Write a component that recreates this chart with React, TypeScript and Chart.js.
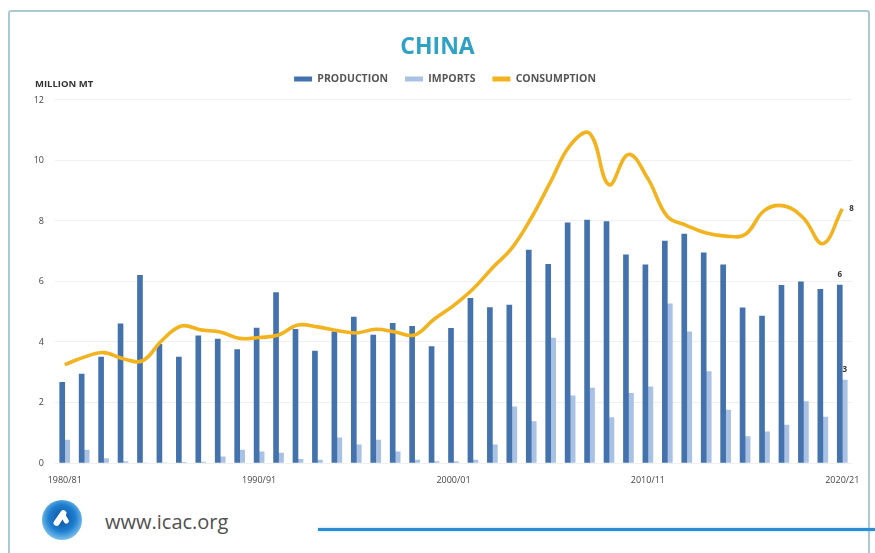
import React, { useEffect, useRef } from 'react';
import { Chart, registerables } from 'chart.js';

Chart.register(...registerables);

const seasons = [
  '1980/81', '1981/82', '1982/83', '1983/84', '1984/85', '1985/86', '1986/87', '1987/88', '1988/89', '1989/90',
  '1990/91', '1991/92', '1992/93', '1993/94', '1994/95', '1995/96', '1996/97', '1997/98', '1998/99', '1999/00',
  '2000/01', '2001/02', '2002/03', '2003/04', '2004/05', '2005/06', '2006/07', '2007/08', '2008/09', '2009/10',
  '2010/11', '2011/12', '2012/13', '2013/14', '2014/15', '2015/16', '2016/17', '2017/18', '2018/19', '2019/20',
  '2020/21',
];

const shownLabels = ['1980/81', '1990/91', '2000/01', '2010/11', '2020/21'];

const production = [
  2.67, 2.94, 3.5, 4.6, 6.2, 3.92, 3.5, 4.2, 4.1, 3.75,
  4.46, 5.63, 4.42, 3.7, 4.34, 4.82, 4.23, 4.62, 4.52, 3.85,
  4.45, 5.44, 5.14, 5.22, 7.04, 6.57, 7.94, 8.03, 7.98, 6.88,
  6.55, 7.34, 7.57, 6.95, 6.55, 5.13, 4.86, 5.87, 5.99, 5.74,
  5.88,
];

const imports = [
  0.76, 0.43, 0.15, 0.05, 0, 0, 0.02, 0.03, 0.2, 0.43,
  0.37, 0.33, 0.12, 0.1, 0.83, 0.6, 0.76, 0.37, 0.1, 0.05,
  0.05, 0.1, 0.6, 1.86, 1.37, 4.13, 2.22, 2.48, 1.5, 2.3,
  2.52, 5.26, 4.34, 3.02, 1.75, 0.87, 1.03, 1.25, 2.03, 1.52,
  2.74,
];

const consumption = [
  3.25, 3.5, 3.65, 3.45, 3.38, 4.05, 4.53, 4.4, 4.33, 4.12,
  4.15, 4.23, 4.56, 4.5, 4.38, 4.3, 4.42, 4.33, 4.23, 4.75,
  5.2, 5.75, 6.45, 7.1, 8.1, 9.3, 10.5, 10.9, 9.2, 10.2,
  9.4, 8.15, 7.85, 7.6, 7.5, 7.55, 8.35, 8.5, 8.1, 7.25,
  8.4,
];

const FONT = "'Open Sans', sans-serif";

const endLabels = {
  id: 'endLabels',
  afterDatasetsDraw(chart: any) {
    const ctx = chart.ctx;
    ctx.save();
    ctx.font = `bold 8px ${FONT}`;
    ctx.fillStyle = '#333';
    chart.data.datasets.forEach((ds: any, di: number) => {
      const meta = chart.getDatasetMeta(di);
      const el = meta.data[meta.data.length - 1];
      if (!el) return;
      const v = ds.data[ds.data.length - 1];
      const text = String(Math.round(v));
      if (meta.type === 'line') {
        ctx.textAlign = 'left';
        ctx.textBaseline = 'middle';
        ctx.fillText(text, el.x + 7, el.y);
      } else {
        ctx.textAlign = 'center';
        ctx.textBaseline = 'bottom';
        ctx.fillText(text, el.x, el.y - 6);
      }
    });
    ctx.restore();
  },
};

// nudges the legend row so it sits where the original places it
const legendShift = {
  id: 'legendShift',
  afterLayout(chart: any) {
    if (chart.legend) {
      chart.legend.left += 19;
      chart.legend.right += 19;
    }
  },
};

export default function App() {
  const ref = useRef<HTMLCanvasElement | null>(null);

  useEffect(() => {
    if (!ref.current) return;
    const chart = new Chart(ref.current, {
      type: 'bar',
      data: {
        labels: seasons,
        datasets: [
          {
            type: 'bar',
            label: 'PRODUCTION',
            data: production,
            backgroundColor: '#4472ad',
            borderWidth: 0,
            barThickness: 5,
            order: 1,
          },
          {
            type: 'bar',
            label: 'IMPORTS',
            data: imports,
            backgroundColor: '#a9c2e4',
            borderWidth: 0,
            barThickness: 5,
            order: 2,
          },
          {
            type: 'line',
            label: 'CONSUMPTION',
            data: consumption,
            borderColor: '#f2b31f',
            backgroundColor: '#f2b31f',
            borderWidth: 3.6,
            pointRadius: 0,
            tension: 0.4,
            order: 0,
          } as any,
        ],
      },
      options: {
        animation: false,
        responsive: false,
        devicePixelRatio: 1,
        layout: { padding: { top: 56.75, left: 0, right: 23, bottom: 7 } },
        plugins: {
          tooltip: { enabled: false },
          title: { display: false },
          legend: {
            display: true,
            position: 'top',
            labels: {
              font: { family: FONT, size: 10.5, weight: 'bold' },
              color: '#555',
              boxWidth: 18,
              boxHeight: 5,
              padding: 17,
              sort: (a: any, b: any) => a.datasetIndex - b.datasetIndex,
              generateLabels: (c: any) =>
                (Chart.defaults as any).plugins.legend.labels
                  .generateLabels(c)
                  .map((l: any) => ({ ...l, lineWidth: 0, strokeStyle: 'rgba(0,0,0,0)' })),
            },
          },
        },
        scales: {
          x: {
            grid: { display: false, drawTicks: false },
            border: { display: false },
            ticks: {
              autoSkip: false,
              maxRotation: 0,
              padding: 12,
              font: { family: FONT, size: 9 },
              color: '#444',
              callback: (_v: any, i: number) => (shownLabels.includes(seasons[i]) ? seasons[i] : ''),
            },
            afterFit: (s: any) => {
              s.height = 30;
            },
          },
          y: {
            min: 0,
            max: 12.19,
            grid: { color: 'rgba(0,0,0,0.06)', drawTicks: false },
            border: { display: false },
            ticks: {
              stepSize: 2,
              includeBounds: false,
              padding: 11,
              font: { family: FONT, size: 9 },
              color: '#444',
            },
            afterFit: (s: any) => {
              s.width = 55;
            },
          },
        },
      },
      plugins: [endLabels, legendShift],
    });
    return () => chart.destroy();
  }, []);

  return (
    <div
      style={{
        position: 'absolute',
        left: 0,
        top: 0,
        width: 875,
        height: 553,
        overflow: 'hidden',
        background: '#fff',
        fontFamily: FONT,
      }}
    >
      <div
        style={{
          position: 'absolute',
          left: 8,
          top: 10,
          width: 862,
          height: 600,
          border: '2px solid #a9c9d6',
          borderRadius: 3,
          boxSizing: 'border-box',
        }}
      />
      <canvas ref={ref} width={875} height={500} style={{ position: 'absolute', left: 0, top: 0 }} />
      <div
        style={{
          position: 'absolute',
          left: 0,
          width: 875,
          top: 34,
          textAlign: 'center',
          fontSize: 23,
          fontWeight: 700,
          lineHeight: '23px',
          color: '#2ea1c4',
        }}
      >
        CHINA
      </div>
      <div
        style={{
          position: 'absolute',
          left: 35,
          top: 79,
          fontSize: 9.5,
          fontWeight: 700,
          lineHeight: '9.5px',
          color: '#333',
          whiteSpace: 'nowrap',
        }}
      >
        MILLION MT
      </div>
      <div
        style={{
          position: 'absolute',
          left: 42,
          top: 500,
          width: 40,
          height: 40,
          borderRadius: '50%',
          background:
            'radial-gradient(circle at 50% 45%, #0d4f9e 0%, #1f7fd0 45%, #7fc3ee 75%, #d7eefb 100%)',
        }}
      >
        <div
          style={{
            position: 'absolute',
            left: 15,
            top: 9,
            width: 6,
            height: 18,
            background: '#fff',
            borderRadius: 3,
            transform: 'rotate(35deg)',
          }}
        />
        <div
          style={{
            position: 'absolute',
            left: 20,
            top: 12,
            width: 5,
            height: 12,
            background: '#fff',
            borderRadius: 3,
            transform: 'rotate(-30deg)',
          }}
        />
      </div>
      <div
        style={{
          position: 'absolute',
          left: 105,
          top: 512,
          fontSize: 20,
          lineHeight: '20px',
          color: '#505050',
          whiteSpace: 'nowrap',
        }}
      >
        www.icac.org
      </div>
      <div
        style={{
          position: 'absolute',
          left: 318,
          top: 528,
          width: 570,
          height: 3,
          background: '#2a8ed4',
          boxShadow: '0 0 2px #8cc6ee',
        }}
      />
    </div>
  );
}
